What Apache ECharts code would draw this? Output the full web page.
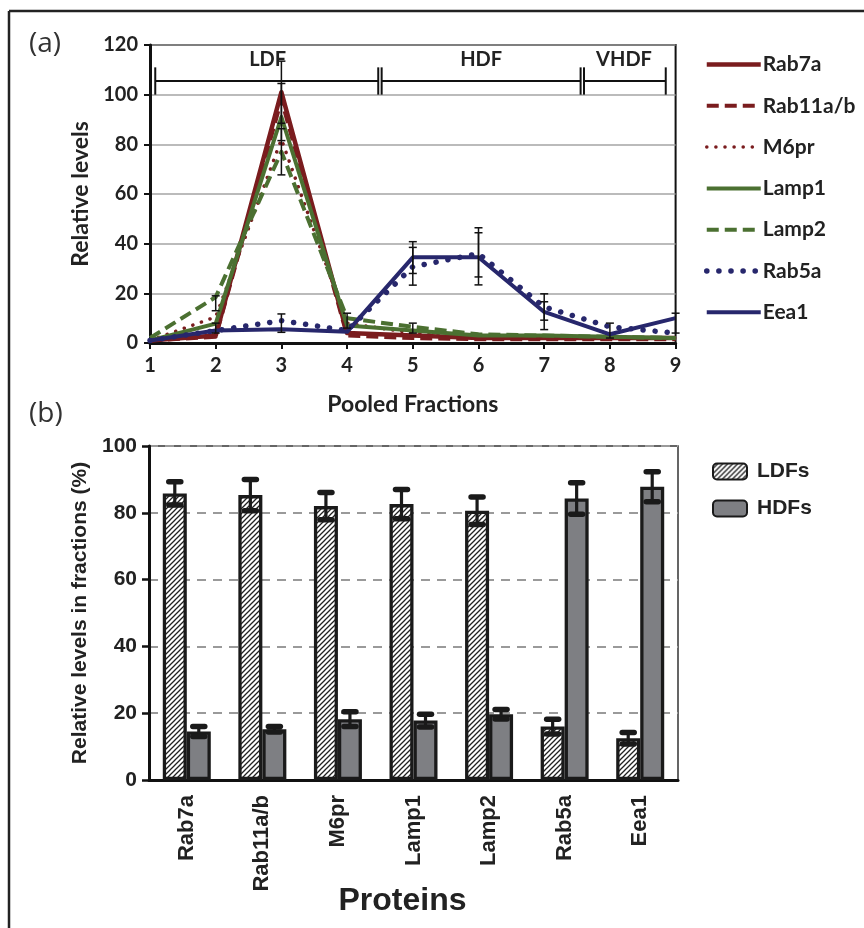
<!DOCTYPE html>
<html>
<head>
<meta charset="utf-8">
<script src="https://cdn.jsdelivr.net/npm/echarts@6/dist/echarts.min.js"></script>
<style>
  html, body { margin: 0; padding: 0; background: #fff; }
  #main { width: 864px; height: 928px; }
</style>
</head>
<body>
<div id="main"></div>
<script>
// panel (a): pooled fractions
const fractions = [1, 2, 3, 4, 5, 6, 7, 8, 9];
const rab7a = [1, 3, 101, 4, 3, 2, 2, 2, 2];
const rab11 = [1, 2.5, 98, 3, 2, 1.5, 1.5, 1.5, 1.5];
const m6pr = [1, 10.5, 82, 8, 4, 2.5, 2, 2, 2];
const lamp1 = [1, 7.8, 91, 7, 5, 3, 3, 2.5, 2];
const lamp2 = [2, 18.5, 77, 10, 6.5, 3.5, 3, 2.5, 2];
const rab5a = [1, 5, 9, 5, 30.7, 36, 14.5, 6.5, 4];
const eea1 = [1, 5, 5.5, 4.5, 34.5, 34.5, 12.5, 3.5, 10];
// [fraction, value, error]
const topErrors = [
    [2, 16, 3], [2, 6, 2],
    [3, 101, 12.5], [3, 93, 11.5], [3, 77, 9.3], [3, 8, 3.7],
    [4, 9, 3], [5, 6, 2],
    [5, 34.4, 6.4], [5, 30.9, 7.6],
    [6, 34.9, 11.5], [6, 35.5, 8.9],
    [7, 12.6, 7.2], [7, 12.9, 3.7],
    [8, 5, 3], [9, 8, 4]
];
const fractionGroups = ['LDF', 'HDF', 'VHDF'];
const groupBounds = [[1.08, 4.5], [4.5, 7.58], [7.58, 8.85]];

// panel (b): LDFs vs HDFs
const proteins = ['Rab7a', 'Rab11a/b', 'M6pr', 'Lamp1', 'Lamp2', 'Rab5a', 'Eea1'];
const ldf = [85.8, 85.3, 82, 82.6, 80.6, 16, 12.5];
const ldfErr = [3.5, 4.7, 4.1, 4.4, 4.1, 2.2, 1.7];
const hdf = [14.5, 15.2, 18.2, 17.8, 19.7, 84.3, 87.8];
const hdfErr = [1.5, 0.8, 2.2, 1.9, 1.4, 4.7, 4.5];

const RED = '#7a1c1e';
const GREEN = '#4b7031';
const NAVY = '#27276c';
const TOPFONT = 'Lato';
const BOTFONT = 'Liberation Sans';

function pairs(vals) {
    return fractions.map((f, i) => [f, vals[i]]);
}

function hatch() {
    const c = document.createElement('canvas');
    c.width = 5; c.height = 5;
    const ctx = c.getContext('2d');
    ctx.fillStyle = '#fff';
    ctx.fillRect(0, 0, 5, 5);
    ctx.strokeStyle = '#222';
    ctx.lineWidth = 1.3;
    ctx.beginPath();
    ctx.moveTo(-1, 6); ctx.lineTo(6, -1);
    ctx.moveTo(-1, 1); ctx.lineTo(1, -1);
    ctx.moveTo(4, 6); ctx.lineTo(6, 4);
    ctx.stroke();
    return c;
}

const chart = echarts.init(document.getElementById('main'));

function lineSeries(name, vals, color, type, width, cap) {
    return {
        name: name,
        type: 'line',
        xAxisIndex: 0, yAxisIndex: 0,
        data: pairs(vals),
        symbol: 'none',
        lineStyle: { color: color, width: width, type: type, cap: cap || 'butt', join: 'round' },
        itemStyle: { color: color },
        silent: true
    };
}

const BARW = 24;

function barErrors(vals, errs, side) {
    return {
        type: 'custom',
        xAxisIndex: 1, yAxisIndex: 1,
        data: vals.map((v, i) => [i, v, errs[i]]),
        z: 5,
        silent: true,
        renderItem: function (params, api) {
            const i = api.value(0), v = api.value(1), e = api.value(2);
            const top = api.coord([i, v + e]);
            const bot = api.coord([i, v - e]);
            const x = top[0] + side * BARW / 2;
            const st = { stroke: '#1a1a1a', lineWidth: 3.2 };
            const capSt = { stroke: '#1a1a1a', lineWidth: 5.5, lineCap: 'round' };
            return {
                type: 'group',
                children: [
                    { type: 'line', shape: { x1: x, y1: top[1], x2: x, y2: bot[1] }, style: st },
                    { type: 'line', shape: { x1: x - 6, y1: top[1], x2: x + 6, y2: top[1] }, style: capSt },
                    { type: 'line', shape: { x1: x - 6, y1: bot[1], x2: x + 6, y2: bot[1] }, style: capSt }
                ]
            };
        }
    };
}

const option = {
    animation: false,
    graphic: [
        { type: 'line', shape: { x1: 9, y1: 11, x2: 9, y2: 928 }, style: { stroke: '#222', lineWidth: 2.5 } },
        { type: 'line', shape: { x1: 9, y1: 11, x2: 864, y2: 11 }, style: { stroke: '#222', lineWidth: 2.5 } },
        { type: 'text', left: 29, top: 30, style: { text: '(a)', font: '28px "Open Sans"', fill: '#333' } },
        { type: 'text', left: 29, top: 400, style: { text: '(b)', font: '28px "Open Sans"', fill: '#333' } }
    ],
    legend: [
        {
            data: ['Rab7a', 'Rab11a/b', 'M6pr', 'Lamp1', 'Lamp2', 'Rab5a', 'Eea1'],
            orient: 'vertical',
            left: 699, top: 49,
            itemWidth: 54, itemHeight: 20, itemGap: 20.3,
            itemStyle: { color: 'transparent', borderColor: 'transparent', borderWidth: 0 },
            lineStyle: { width: 'inherit', type: 'inherit', cap: 'inherit' },
            textStyle: { fontFamily: TOPFONT, fontWeight: 'bold', fontSize: 21, color: '#222', padding: [0, 0, 0, -3] },
            selectedMode: false
        },
        {
            data: ['LDFs', 'HDFs'],
            orient: 'vertical',
            left: 707, top: 456,
            icon: 'roundRect',
            itemWidth: 34, itemHeight: 16, itemGap: 16,
            textStyle: { fontFamily: BOTFONT, fontWeight: 'bold', fontSize: 21, color: '#222', padding: [0, 0, 0, 5] },
            selectedMode: false
        }
    ],
    grid: [
        { left: 150, top: 45, width: 525.6, height: 298, show: true, borderColor: '#111', borderWidth: 2, outerBoundsMode: 'none' },
        { left: 149, top: 446, width: 529, height: 334, show: true, borderColor: '#333', borderWidth: 1.5, outerBoundsMode: 'none' }
    ],
    xAxis: [
        {
            gridIndex: 0, type: 'value', min: 1, max: 9, interval: 1,
            name: 'Pooled Fractions', nameLocation: 'middle', nameGap: 50,
            nameTextStyle: { fontFamily: TOPFONT, fontWeight: 'bold', fontSize: 23, color: '#222' },
            axisLine: { lineStyle: { color: '#111', width: 3 } },
            axisTick: { length: 6, lineStyle: { color: '#111', width: 2 } },
            axisLabel: { fontFamily: TOPFONT, fontWeight: 'bold', fontSize: 20, color: '#222', margin: 13 },
            splitLine: { show: false }
        },
        {
            gridIndex: 1, type: 'category', data: proteins,
            name: 'Proteins', nameLocation: 'middle', nameGap: 105, nameMoveOverlap: false,
            nameTextStyle: { fontFamily: BOTFONT, fontWeight: 'bold', fontSize: 32, color: '#222', padding: [0, 22, 0, 0] },
            axisLine: { lineStyle: { color: '#111', width: 3 } },
            axisTick: { alignWithLabel: true, length: 9, lineStyle: { color: '#111', width: 2.5 } },
            axisLabel: { rotate: 90, fontFamily: BOTFONT, fontWeight: 'bold', fontSize: 22, color: '#222', margin: 15 }
        }
    ],
    yAxis: [
        {
            gridIndex: 0, type: 'value', min: 0, max: 120, interval: 20,
            name: 'Relative levels', nameLocation: 'middle', nameGap: 56,
            nameTextStyle: { fontFamily: TOPFONT, fontWeight: 'bold', fontSize: 23, color: '#222' },
            axisLine: { show: true, lineStyle: { color: '#111', width: 3 } },
            axisTick: { show: true, length: 6, lineStyle: { color: '#111', width: 2 } },
            axisLabel: { fontFamily: TOPFONT, fontWeight: 'bold', fontSize: 20, color: '#222', margin: 12 },
            splitLine: { lineStyle: { color: '#a4a4a4', width: 1.5 } }
        },
        {
            gridIndex: 1, type: 'value', min: 0, max: 100, interval: 20,
            name: 'Relative levels in fractions (%)', nameLocation: 'middle', nameGap: 52,
            nameTextStyle: { fontFamily: BOTFONT, fontWeight: 'bold', fontSize: 21, color: '#222' },
            axisLine: { show: true, lineStyle: { color: '#111', width: 3 } },
            axisTick: { show: true, length: 7, lineStyle: { color: '#111', width: 2.5 } },
            axisLabel: { fontFamily: BOTFONT, fontWeight: 'bold', fontSize: 21, color: '#222', margin: 12 },
            splitLine: { lineStyle: { color: '#9a9a9a', width: 2, type: [9, 7] } }
        }
    ],
    series: [
        lineSeries('Rab7a', rab7a, RED, 'solid', 4.5),
        lineSeries('Rab11a/b', rab11, RED, [12, 6], 4),
        lineSeries('M6pr', m6pr, RED, [0.1, 9], 3.5, 'round'),
        lineSeries('Lamp1', lamp1, GREEN, 'solid', 4),
        lineSeries('Lamp2', lamp2, GREEN, [12, 6], 4),
        lineSeries('Rab5a', rab5a, NAVY, [0.1, 12], 5.5, 'round'),
        lineSeries('Eea1', eea1, NAVY, 'solid', 4),
        {
            type: 'custom',
            xAxisIndex: 0, yAxisIndex: 0,
            data: topErrors,
            z: 6, silent: true,
            renderItem: function (params, api) {
                const x = api.value(0), v = api.value(1), e = api.value(2);
                const top = api.coord([x, v + e]);
                const bot = api.coord([x, v - e]);
                const st = { stroke: '#111', lineWidth: 1.5 };
                return {
                    type: 'group',
                    children: [
                        { type: 'line', shape: { x1: top[0], y1: top[1], x2: top[0], y2: bot[1] }, style: st },
                        { type: 'line', shape: { x1: top[0] - 4, y1: top[1], x2: top[0] + 4, y2: top[1] }, style: st },
                        { type: 'line', shape: { x1: top[0] - 4, y1: bot[1], x2: top[0] + 4, y2: bot[1] }, style: st }
                    ]
                };
            }
        },
        {
            // LDF / HDF / VHDF brackets
            type: 'custom',
            xAxisIndex: 0, yAxisIndex: 0,
            data: groupBounds.map((b, i) => [b[0], b[1], 105.5, i]),
            encode: { x: [0, 1], y: 2 },
            z: 7, silent: true,
            renderItem: function (params, api) {
                const i = api.value(3);
                const l = api.coord([api.value(0), 105.5]);
                const r = api.coord([api.value(1), 105.5]);
                const hi = api.coord([0, 111])[1];
                const lo = api.coord([0, 100])[1];
                const lx = l[0] + (i > 0 ? 1.7 : 0);
                const rx = r[0] - (i < groupBounds.length - 1 ? 1.7 : 0);
                const st = { stroke: '#111', lineWidth: 2 };
                const lab = api.coord([(api.value(0) + api.value(1)) / 2, 114]);
                return {
                    type: 'group',
                    children: [
                        { type: 'line', shape: { x1: lx, y1: l[1], x2: rx, y2: l[1] }, style: st },
                        { type: 'line', shape: { x1: lx, y1: hi, x2: lx, y2: lo }, style: st },
                        { type: 'line', shape: { x1: rx, y1: hi, x2: rx, y2: lo }, style: st },
                        {
                            type: 'text', x: lab[0], y: lab[1],
                            style: {
                                text: fractionGroups[i], fill: '#222', align: 'center', verticalAlign: 'middle',
                                font: 'bold 20px ' + TOPFONT
                            }
                        }
                    ]
                };
            }
        },
        {
            name: 'LDFs', type: 'bar', xAxisIndex: 1, yAxisIndex: 1,
            data: ldf, barWidth: BARW, barGap: '0%',
            itemStyle: { color: { image: hatch(), repeat: 'repeat' }, borderColor: '#1a1a1a', borderWidth: 3.3 },
            silent: true
        },
        {
            name: 'HDFs', type: 'bar', xAxisIndex: 1, yAxisIndex: 1,
            data: hdf, barWidth: BARW, barGap: '0%',
            itemStyle: { color: '#7e7f83', borderColor: '#1a1a1a', borderWidth: 3.3 },
            silent: true
        },
        barErrors(ldf, ldfErr, -1),
        barErrors(hdf, hdfErr, 1)
    ]
};

chart.setOption(option);
</script>
</body>
</html>
